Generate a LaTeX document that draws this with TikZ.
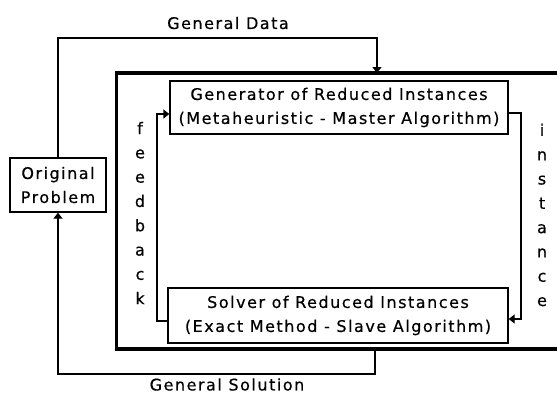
\documentclass[tikz,border=0pt]{standalone}
\usepackage{fontspec}
\setmainfont{DejaVu Sans}[LetterSpace=9.5,FakeBold=0.5]
\usetikzlibrary{arrows.meta}
\begin{document}
\begin{tikzpicture}[x=1pt,y=-1pt,
  txt/.style={font=\fontsize{16}{24}\selectfont, align=center, inner sep=0pt},
  box/.style={txt, draw, line width=1.4pt},
  conn/.style={line width=1.4pt},
  arr/.style={conn, -{Triangle[width=9pt,length=6pt]}},
  frame/.style={line width=3.4pt}]
\useasboundingbox (0,0) rectangle (557,394);
\clip (0,0) rectangle (557,394);
% outer frame (cut by right edge)
\coordinate (ftl) at (116.5,73);
\coordinate (fbl) at (116.5,349);
\draw[frame] (580,73) -- (ftl) -- (fbl) -- (580,349);
% nodes
\node[box, minimum width=96pt, minimum height=54pt] (op) at (58,185) {Original\\Problem};
\node[box, minimum width=338pt, minimum height=53pt] (gen) at (339,107.5) {Generator of Reduced Instances\\(Metaheuristic - Master Algorithm)};
\node[box, minimum width=340pt, minimum height=55pt] (sol) at (338,315.5) {Solver of Reduced Instances\\(Exact Method - Slave Algorithm)};
\node[txt, font=\fontsize{16}{24.3}\selectfont] (fbtxt) at (140,213) {f\\e\\e\\d\\b\\a\\c\\k};
\node[txt, font=\fontsize{16}{24.3}\selectfont] (intxt) at (542,215) {i\\n\\s\\t\\a\\n\\c\\e};
\node[txt] (gd) at (228,23) {General Data};
\node[txt] (gs) at (227,384.5) {General Solution};
% connectors
\coordinate (gdtop) at (377,38);
\coordinate (gdin) at (377,73);
\coordinate (gsout) at (375,349);
\coordinate (gsbot) at (375,374);
\draw[arr] (op.north) |- (gdtop) -- (gdin);
\draw[arr] (gsout) -- (gsbot) -| (op.south);
\coordinate (fbc) at (157,114);
\coordinate (inc) at (521,319);
\draw[arr] ([yshift=-5.5pt]sol.west) -| (fbc) -- ([yshift=-6.5pt]gen.west);
\draw[arr] ([yshift=-5.5pt]gen.east) -| (inc) -- ([yshift=-3.5pt]sol.east);
\end{tikzpicture}
\end{document}
